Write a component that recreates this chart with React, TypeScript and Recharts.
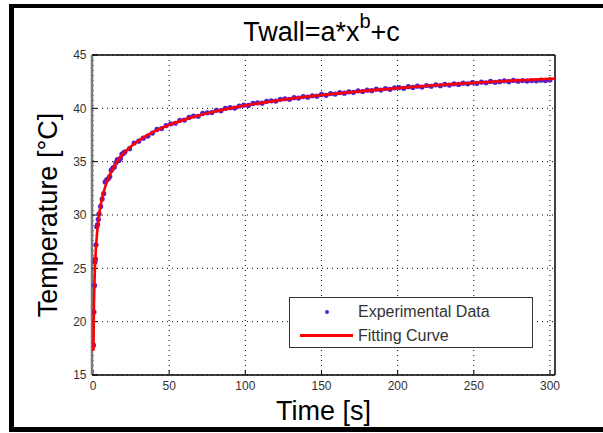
import { ComposedChart, Scatter, Line, XAxis, YAxis, CartesianGrid, Legend } from 'recharts'

// measured wall temperature (s, °C)
const expTime = [
  0.3, 0.6, 1, 1.3, 1.6, 2, 2.5, 3, 3.5, 4, 5, 6, 7, 8, 9, 10, 11, 12, 13, 14, 15, 16, 17, 18, 19, 20,
  21, 24, 27, 30, 33, 36, 39, 42, 45, 48, 51, 54, 57, 60, 63, 66, 69, 72, 75, 78, 81, 84, 87, 90,
  93, 96, 99, 102, 105, 108, 111, 114, 117, 120, 123, 126, 129, 132, 135, 138, 141, 144, 147, 150,
  153, 156, 159, 162, 165, 168, 171, 174, 177, 180, 183, 186, 189, 192, 195, 198, 201, 204, 207, 210,
  213, 216, 219, 222, 225, 228, 231, 234, 237, 240, 243, 246, 249, 252, 255, 258, 261, 264, 267, 270,
  273, 276, 279, 282, 285, 288, 291, 294, 297, 300,
]
const expTemp = [
  17.8, 20.9, 23.4, 25.6, 25.9, 27.2, 28.9, 29.1, 29.6, 30.1, 30.8, 31.5, 32.0, 33.1, 33.3, 33.4, 33.6, 34.2, 34.4, 34.5, 34.9, 35.2, 35.1, 35.3, 35.7, 35.8,
  35.93, 36.22, 36.75, 36.92, 37.2, 37.4, 37.68, 38.02, 38.1, 38.38, 38.55, 38.6, 38.88, 38.9, 39.15, 39.28, 39.26, 39.52, 39.58, 39.6, 39.82, 39.78, 40.0, 40.06,
  40.02, 40.22, 40.3, 40.27, 40.46, 40.52, 40.48, 40.66, 40.7, 40.68, 40.84, 40.9, 40.85, 41.0, 40.96, 41.1, 41.05, 41.18, 41.14, 41.3,
  41.22, 41.38, 41.34, 41.48, 41.42, 41.55, 41.5, 41.64, 41.58, 41.7, 41.66, 41.8, 41.72, 41.86, 41.78, 41.92, 41.95, 41.88, 42.03, 41.96,
  42.08, 42.0, 42.14, 42.07, 42.2, 42.12, 42.25, 42.18, 42.3, 42.24, 42.36, 42.3, 42.42, 42.34, 42.46, 42.4, 42.52, 42.44, 42.5, 42.58,
  42.5, 42.62, 42.55, 42.6, 42.56, 42.6, 42.58, 42.64, 42.6, 42.66,
]

// fitted curve Twall = a*x^b + c
const fitTime = [
  0.3, 0.5, 1, 1.5, 2, 3, 4, 5, 6, 8, 10, 12, 15, 20, 25, 30, 40, 50, 60, 70, 80, 90, 100,
  120, 140, 160, 180, 200, 220, 240, 260, 280, 300, 303.3,
]
const fitTemp = [
  17.27, 20.18, 23.8, 25.75, 27.06, 28.82, 30.0, 30.88, 31.58, 32.64, 33.44, 34.07, 34.82, 35.75, 36.44, 36.99, 37.82, 38.45, 38.94, 39.35, 39.7, 40.0, 40.26,
  40.71, 41.08, 41.39, 41.66, 41.89, 42.11, 42.3, 42.47, 42.63, 42.77, 42.79,
]

const xTicks = [0, 50, 100, 150, 200, 250, 300]
const yTicks = [15, 20, 25, 30, 35, 40, 45]

const expData = expTime.map((t, i) => ({ t, temp: expTemp[i] }))
const fitData = fitTime.map((t, i) => ({ t, temp: fitTemp[i] }))

const font = '"Liberation Sans", Arial, Helvetica, sans-serif'
const dotColor = '#5a1ec8'
const xDomain = [-0.66, 303.3]
const yDomain = [15, 45]

const Dot = ({ cx, cy }: any) => <circle cx={cx} cy={cy} r={2.6} fill={dotColor} />

const LegendBox = ({ payload }: any) => {
  const items = payload || []
  return (
    <div
      style={{
        position: 'relative',
        width: 244,
        height: 51,
        boxSizing: 'border-box',
        border: '1px solid #333',
        background: '#fff',
        fontFamily: font,
        fontSize: 16,
        lineHeight: '20px',
        color: '#333',
      }}
    >
      {items.map((entry: any, i: number) => (
        <div key={entry.value} style={{ position: 'absolute', left: 0, top: i === 0 ? 4 : 28, width: '100%', height: 20 }}>
          {entry.type === 'line' ? (
            <span style={{ position: 'absolute', left: 10, top: 8, width: 53, height: 2.5, background: '#ff0000' }} />
          ) : (
            <span style={{ position: 'absolute', left: 35, top: 8, width: 4, height: 4, borderRadius: 2, background: dotColor }} />
          )}
          <span style={{ position: 'absolute', left: 68, top: 0, whiteSpace: 'nowrap' }}>{entry.value}</span>
        </div>
      ))}
    </div>
  )
}

export default function App() {
  return (
    <div style={{ position: 'absolute', left: 0, top: 0, width: 603, height: 433, overflow: 'hidden', background: '#fff' }}>
      <div
        style={{
          position: 'absolute',
          left: 9,
          top: 4,
          width: 700,
          height: 428,
          boxSizing: 'border-box',
          borderTop: '4px solid #000',
          borderLeft: '5px solid #000',
          borderBottom: '5px solid #000',
        }}
      />
      <div
        style={{
          position: 'absolute',
          left: 90,
          width: 463,
          top: 19,
          textAlign: 'center',
          fontFamily: font,
          fontSize: 27,
          lineHeight: '27px',
          color: '#000',
          whiteSpace: 'nowrap',
        }}
      >
        Twall=a*x<span style={{ position: 'relative', top: -13, fontSize: 20 }}>b</span>+c
      </div>
      <div style={{ position: 'absolute', left: 0, top: 0 }}>
        <ComposedChart width={603} height={433} margin={{ top: 54, right: 47, bottom: 0, left: 0 }}>
          <CartesianGrid
            xAxisId="bottom"
            yAxisId="left"
            stroke="#000"
            strokeDasharray="1 4"
            horizontalValues={yTicks}
            verticalValues={xTicks}
          />
          <XAxis
            xAxisId="bottom"
            dataKey="t"
            type="number"
            domain={xDomain}
            ticks={xTicks}
            interval={0}
            height={58}
            allowDataOverflow
            axisLine={{ stroke: '#000', strokeWidth: 1.5 }}
            tickLine={{ stroke: '#000' }}
            tickSize={-5}
            tickMargin={11.5}
            tick={{ fill: '#333', fontSize: 12, fontFamily: font }}
            label={{ value: 'Time [s]', position: 'insideBottom', offset: 13, fill: '#000', fontSize: 27, fontFamily: font }}
          />
          <XAxis
            xAxisId="top"
            orientation="top"
            dataKey="t"
            type="number"
            domain={xDomain}
            ticks={xTicks}
            interval={0}
            height={1}
            allowDataOverflow
            axisLine={{ stroke: '#000', strokeWidth: 1.5 }}
            tickLine={{ stroke: '#000' }}
            tickSize={-5}
            tick={false}
          />
          <YAxis
            yAxisId="left"
            type="number"
            domain={yDomain}
            ticks={yTicks}
            interval={0}
            width={92}
            allowDataOverflow
            axisLine={{ stroke: '#7a7a7a', strokeWidth: 2.5 }}
            tickLine={{ stroke: '#000' }}
            tickSize={-5}
            tickMargin={10.5}
            tick={{ fill: '#333', fontSize: 12, fontFamily: font }}
            label={{
              value: 'Temperature [°C]',
              angle: -90,
              position: 'insideLeft',
              offset: 47,
              fill: '#000',
              fontSize: 27,
              fontFamily: font,
              style: { textAnchor: 'middle' },
            }}
          />
          <YAxis
            yAxisId="right"
            orientation="right"
            type="number"
            domain={yDomain}
            ticks={yTicks}
            interval={0}
            width={1}
            allowDataOverflow
            axisLine={{ stroke: '#000', strokeWidth: 1.5 }}
            tickLine={{ stroke: '#000' }}
            tickSize={-5}
            tick={false}
          />
          <Legend
            layout="vertical"
            align="center"
            verticalAlign="middle"
            wrapperStyle={{ left: 289, top: 297, width: 244 }}
            content={<LegendBox />}
          />
          <Scatter
            name="Experimental Data"
            data={expData}
            dataKey="temp"
            xAxisId="bottom"
            yAxisId="left"
            fill={dotColor}
            legendType="circle"
            shape={<Dot />}
            zIndex={500}
            isAnimationActive={false}
          />
          <Line
            name="Fitting Curve"
            data={fitData}
            dataKey="temp"
            xAxisId="bottom"
            yAxisId="left"
            type="monotone"
            stroke="#ff0000"
            strokeWidth={2.6}
            dot={false}
            activeDot={false}
            legendType="line"
            zIndex={700}
            isAnimationActive={false}
          />
        </ComposedChart>
      </div>
    </div>
  )
}
